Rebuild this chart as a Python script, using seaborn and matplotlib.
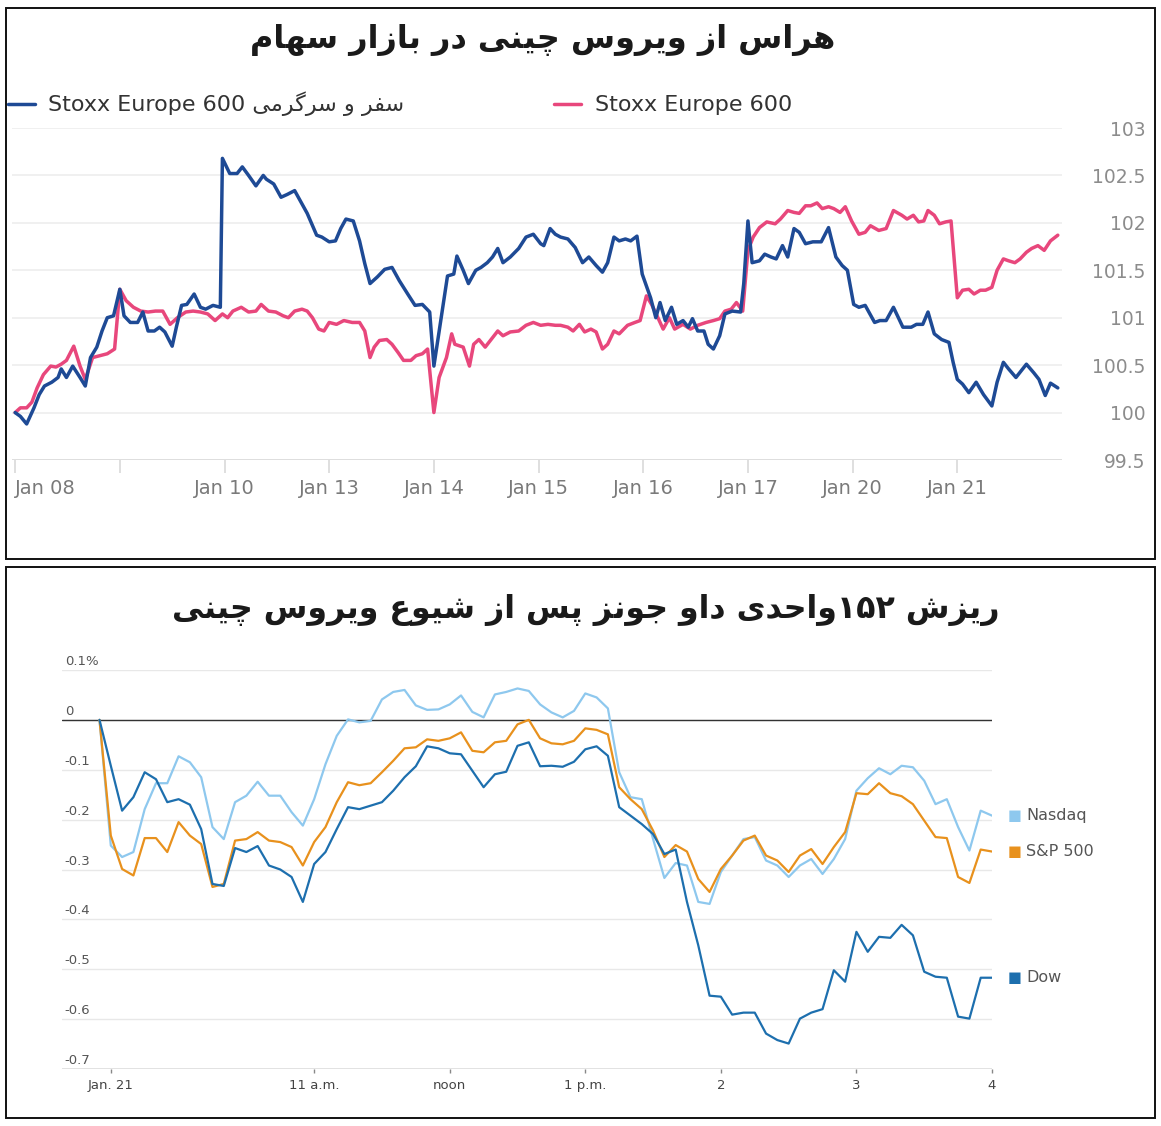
import re
import numpy as np
import pandas as pd
import matplotlib
matplotlib.use('Agg')
import matplotlib.pyplot as plt
import matplotlib.transforms as mtransforms
from matplotlib.patches import Rectangle
import seaborn as sns

sns.set_theme(style='white')
plt.rcParams['font.family'] = ['DejaVu Sans']

# ---------------- data: top chart (index level, trading days) ----------------
day_labels = ['Jan 08', '', 'Jan 10', 'Jan 13', 'Jan 14', 'Jan 15',
              'Jan 16', 'Jan 17', 'Jan 20', 'Jan 21']
top_yticks = [99.5, 100, 100.5, 101, 101.5, 102, 102.5, 103]

travel_t = [0.00, 0.05, 0.11, 0.18, 0.23, 0.28, 0.35, 0.41, 0.44, 0.49,
            0.55, 0.62, 0.67, 0.72, 0.78, 0.83, 0.88, 0.94, 1.00, 1.04,
            1.10, 1.17, 1.22, 1.27, 1.33, 1.38, 1.43, 1.50, 1.54, 1.59,
            1.64, 1.71, 1.77, 1.82, 1.89, 1.96, 1.98, 2.05, 2.12, 2.17,
            2.23, 2.30, 2.37, 2.40, 2.47, 2.54, 2.60, 2.67, 2.72, 2.79,
            2.88, 2.93, 3.00, 3.06, 3.11, 3.16, 3.23, 3.29, 3.34, 3.39,
            3.46, 3.53, 3.60, 3.67, 3.75, 3.82, 3.89, 3.96, 4.00, 4.06,
            4.13, 4.19, 4.22, 4.28, 4.33, 4.40, 4.45, 4.51, 4.56, 4.61,
            4.66, 4.73, 4.81, 4.88, 4.95, 5.02, 5.05, 5.11, 5.16,
            5.21, 5.28, 5.35, 5.42, 5.48, 5.55, 5.61, 5.66, 5.72, 5.77,
            5.83, 5.88, 5.94, 5.99, 6.07, 6.12, 6.16, 6.21, 6.27, 6.32,
            6.38, 6.43, 6.47, 6.52, 6.58, 6.62, 6.67, 6.73, 6.78, 6.85,
            6.93, 6.96, 7.00, 7.04, 7.11, 7.16, 7.22, 7.27, 7.33, 7.38,
            7.44, 7.49, 7.55, 7.62, 7.70, 7.77, 7.84, 7.90, 7.95, 8.01,
            8.06, 8.12, 8.21, 8.26, 8.32, 8.39, 8.48, 8.56, 8.61, 8.67,
            8.72, 8.78, 8.85, 8.92, 8.96, 9.00, 9.05, 9.11, 9.18, 9.25,
            9.33, 9.38, 9.44, 9.49, 9.56, 9.66, 9.73, 9.78, 9.84, 9.89,
            9.96]
travel_v = [100.00, 99.96, 99.88, 100.05, 100.19, 100.28, 100.32, 100.37, 100.46, 100.37,
            100.49, 100.37, 100.28, 100.58, 100.69, 100.86, 101.00, 101.02, 101.30, 101.02,
            100.95, 100.95, 101.06, 100.86, 100.86, 100.90, 100.85, 100.70, 100.90, 101.13,
            101.14, 101.25, 101.11, 101.09, 101.13, 101.11, 102.68, 102.52, 102.52, 102.59,
            102.50, 102.39, 102.50, 102.46, 102.41, 102.27, 102.30, 102.34, 102.24, 102.10,
            101.87, 101.85, 101.80, 101.81, 101.94, 102.04, 102.02, 101.81, 101.57, 101.36,
            101.43, 101.51, 101.53, 101.39, 101.25, 101.13, 101.14, 101.06, 100.49, 100.93,
            101.44, 101.46, 101.65, 101.50, 101.36, 101.50, 101.53, 101.58, 101.64, 101.73,
            101.58, 101.64, 101.73, 101.85, 101.88, 101.78, 101.76, 101.94, 101.88,
            101.85, 101.83, 101.74, 101.58, 101.64, 101.55, 101.48, 101.58, 101.85, 101.81,
            101.83, 101.81, 101.86, 101.46, 101.21, 101.00, 101.16, 100.97, 101.11, 100.93,
            100.97, 100.90, 100.99, 100.86, 100.86, 100.72, 100.67, 100.81, 101.04, 101.07,
            101.06, 101.36, 102.02, 101.58, 101.60, 101.67, 101.64, 101.62, 101.76, 101.64,
            101.94, 101.90, 101.78, 101.80, 101.80, 101.95, 101.64, 101.55, 101.50, 101.14,
            101.11, 101.13, 100.95, 100.97, 100.97, 101.11, 100.90, 100.90, 100.93, 100.93,
            101.06, 100.83, 100.77, 100.74, 100.53, 100.35, 100.30, 100.21, 100.32, 100.19,
            100.07, 100.32, 100.53, 100.46, 100.37, 100.51, 100.42, 100.35, 100.18, 100.31,
            100.26]

stoxx_t = [0.00, 0.05, 0.11, 0.16, 0.21, 0.27, 0.34, 0.39, 0.44, 0.49,
           0.56, 0.62, 0.67, 0.74, 0.81, 0.88, 0.95, 1.00, 1.06, 1.13,
           1.20, 1.27, 1.34, 1.41, 1.48, 1.55, 1.63, 1.70, 1.77, 1.84,
           1.91, 1.98, 2.03, 2.08, 2.16, 2.23, 2.30, 2.35, 2.42, 2.49,
           2.56, 2.61, 2.67, 2.74, 2.79, 2.84, 2.90, 2.95, 3.00, 3.07,
           3.14, 3.22, 3.29, 3.34, 3.39, 3.43, 3.48, 3.55, 3.60, 3.66,
           3.71, 3.78, 3.83, 3.89, 3.94, 4.00, 4.05, 4.12, 4.17, 4.20,
           4.28, 4.34, 4.38, 4.43, 4.49, 4.56, 4.61, 4.66, 4.73, 4.81,
           4.88, 4.95, 5.02, 5.09, 5.16,
           5.21, 5.28, 5.33, 5.39, 5.44, 5.50, 5.55, 5.61, 5.66, 5.72,
           5.77, 5.85, 5.92, 5.97, 6.03, 6.08, 6.14, 6.19, 6.25, 6.30,
           6.38, 6.45, 6.52, 6.60, 6.67, 6.73, 6.78, 6.84, 6.89, 6.95,
           7.00, 7.05, 7.11, 7.18, 7.26, 7.31, 7.38, 7.44, 7.49, 7.55,
           7.60, 7.66, 7.71, 7.77, 7.82, 7.88, 7.93, 7.99, 8.06, 8.12,
           8.17, 8.25, 8.32, 8.39, 8.47, 8.52, 8.58, 8.63, 8.68, 8.72,
           8.78, 8.83, 8.89, 8.94, 9.00, 9.05, 9.11, 9.16, 9.22, 9.27,
           9.33, 9.38, 9.44, 9.49, 9.55, 9.60, 9.66, 9.71, 9.77, 9.83,
           9.89, 9.96]
stoxx_v = [100.00, 100.05, 100.05, 100.11, 100.26, 100.40, 100.49, 100.48, 100.51, 100.55,
           100.70, 100.49, 100.35, 100.58, 100.60, 100.62, 100.67, 101.30, 101.18, 101.11,
           101.07, 101.06, 101.07, 101.07, 100.93, 101.00, 101.06, 101.07, 101.06, 101.04,
           100.97, 101.04, 101.00, 101.07, 101.11, 101.06, 101.07, 101.14, 101.07, 101.06,
           101.02, 101.00, 101.07, 101.09, 101.07, 101.00, 100.88, 100.86, 100.95, 100.93,
           100.97, 100.95, 100.95, 100.86, 100.58, 100.69, 100.76, 100.77, 100.72, 100.63,
           100.55, 100.55, 100.60, 100.62, 100.67, 100.00, 100.37, 100.58, 100.83, 100.72,
           100.69, 100.49, 100.72, 100.77, 100.69, 100.79, 100.86, 100.81, 100.85, 100.86,
           100.92, 100.95, 100.92, 100.93, 100.92,
           100.92, 100.90, 100.86, 100.93, 100.85, 100.88, 100.85, 100.67, 100.72, 100.86,
           100.83, 100.92, 100.95, 100.97, 101.23, 101.14, 101.00, 100.88, 101.00, 100.88,
           100.93, 100.88, 100.92, 100.95, 100.97, 100.99, 101.07, 101.09, 101.16, 101.07,
           101.71, 101.85, 101.95, 102.01, 101.99, 102.04, 102.13, 102.11, 102.10, 102.18,
           102.18, 102.21, 102.15, 102.17, 102.15, 102.11, 102.17, 102.02, 101.88, 101.90,
           101.97, 101.92, 101.94, 102.13, 102.08, 102.04, 102.08, 102.01, 102.02, 102.13,
           102.08, 101.99, 102.01, 102.02, 101.21, 101.29, 101.30, 101.25, 101.29, 101.29,
           101.32, 101.50, 101.62, 101.60, 101.58, 101.62, 101.69, 101.73, 101.76, 101.71,
           101.81, 101.87]

# ---------------- data: bottom chart (% change, Jan 21 intraday) ----------------
times = pd.date_range('2020-01-21 09:25', '2020-01-21 16:00', freq='5min')
hour_ticks = [9.5, 11, 12, 13, 14, 15, 16]
hour_labels = ['Jan. 21', '11 a.m.', 'noon', '1 p.m.', '2', '3', '4']
pct_ticks = [0.1, 0, -0.1, -0.2, -0.3, -0.4, -0.5, -0.6, -0.7]
pct_labels = ['0.1%', '0', '-0.1', '-0.2', '-0.3', '-0.4', '-0.5', '-0.6', '-0.7']

nasdaq = [0.000, -0.252, -0.275, -0.265, -0.179, -0.127, -0.127, -0.073,
          -0.085, -0.115, -0.215, -0.239, -0.165, -0.152, -0.124, -0.152, -0.152, -0.185, -0.212, -0.159,
          -0.089, -0.032, 0.001, -0.005, -0.002, 0.041, 0.056, 0.060, 0.029, 0.020, 0.021, 0.031,
          0.049, 0.016, 0.005, 0.051, 0.056, 0.063, 0.058, 0.031, 0.015, 0.005, 0.018, 0.053,
          0.045, 0.023, -0.105, -0.155, -0.159, -0.239, -0.317, -0.287, -0.292, -0.365, -0.369, -0.305,
          -0.272, -0.239, -0.235, -0.282, -0.292, -0.315, -0.292, -0.279, -0.309, -0.279, -0.239, -0.142,
          -0.117, -0.097, -0.109, -0.092, -0.095, -0.122, -0.169, -0.159, -0.215, -0.262, -0.182, -0.192]
sp500 = [0.000, -0.232, -0.299, -0.312, -0.237, -0.237, -0.265, -0.205,
         -0.232, -0.249, -0.335, -0.329, -0.242, -0.239, -0.225, -0.242, -0.245, -0.255, -0.292, -0.245,
         -0.215, -0.165, -0.125, -0.131, -0.127, -0.105, -0.082, -0.057, -0.055, -0.039, -0.042, -0.037,
         -0.025, -0.062, -0.065, -0.045, -0.042, -0.009, 0.000, -0.037, -0.047, -0.049, -0.042, -0.017,
         -0.020, -0.029, -0.135, -0.159, -0.179, -0.222, -0.275, -0.251, -0.264, -0.319, -0.345, -0.299,
         -0.272, -0.242, -0.232, -0.272, -0.282, -0.305, -0.272, -0.259, -0.289, -0.255, -0.225, -0.147,
         -0.149, -0.127, -0.147, -0.153, -0.169, -0.202, -0.235, -0.237, -0.315, -0.327, -0.260, -0.264]
dow = [0.000, -0.092, -0.182, -0.155, -0.105, -0.119, -0.165, -0.159,
       -0.170, -0.219, -0.329, -0.333, -0.257, -0.265, -0.253, -0.292, -0.300, -0.315, -0.365, -0.289,
       -0.265, -0.219, -0.175, -0.179, -0.172, -0.165, -0.142, -0.115, -0.093, -0.053, -0.057, -0.067,
       -0.069, -0.102, -0.135, -0.109, -0.104, -0.052, -0.045, -0.093, -0.092, -0.094, -0.084, -0.059,
       -0.053, -0.072, -0.175, -0.192, -0.209, -0.229, -0.269, -0.260, -0.365, -0.452, -0.553, -0.555,
       -0.591, -0.587, -0.587, -0.629, -0.642, -0.649, -0.599, -0.587, -0.580, -0.502, -0.525, -0.425,
       -0.465, -0.435, -0.437, -0.411, -0.432, -0.505, -0.515, -0.517, -0.595, -0.599, -0.517, -0.517]

TOP_TITLE = 'هراس از ویروس چینی در بازار سهام'
BOTTOM_TITLE = 'ریزش ۱۵۲واحدی داو جونز پس از شیوع ویروس چینی'
TRAVEL_FA = 'سفر و سرگرمی'

# ---------------- minimal Persian shaping (matplotlib has no RTL/joining) ----------------
DUAL = {  # isolated, final, initial, medial
    'ب': '\uFE8F\uFE90\uFE91\uFE92', 'پ': '\uFB56\uFB57\uFB58\uFB59',
    'ت': '\uFE95\uFE96\uFE97\uFE98', 'ج': '\uFE9D\uFE9E\uFE9F\uFEA0',
    'چ': '\uFB7A\uFB7B\uFB7C\uFB7D', 'ح': '\uFEA1\uFEA2\uFEA3\uFEA4',
    'خ': '\uFEA5\uFEA6\uFEA7\uFEA8', 'س': '\uFEB1\uFEB2\uFEB3\uFEB4',
    'ش': '\uFEB5\uFEB6\uFEB7\uFEB8', 'ع': '\uFEC9\uFECA\uFECB\uFECC',
    'ف': '\uFED1\uFED2\uFED3\uFED4', 'ق': '\uFED5\uFED6\uFED7\uFED8',
    'ک': '\uFB8E\uFB8F\uFB90\uFB91', 'گ': '\uFB92\uFB93\uFB94\uFB95',
    'ل': '\uFEDD\uFEDE\uFEDF\uFEE0', 'م': '\uFEE1\uFEE2\uFEE3\uFEE4',
    'ن': '\uFEE5\uFEE6\uFEE7\uFEE8', 'ه': '\uFEE9\uFEEA\uFEEB\uFEEC',
    'ی': '\uFBFC\uFBFD\uFBFE\uFBFF',
}
RIGHT = {  # isolated, final
    'ا': '\uFE8D\uFE8E', 'د': '\uFEA9\uFEAA', 'ذ': '\uFEAB\uFEAC',
    'ر': '\uFEAD\uFEAE', 'ز': '\uFEAF\uFEB0', 'ژ': '\uFB8A\uFB8B',
    'و': '\uFEED\uFEEE',
}


def fa(text):
    out = []
    for i, c in enumerate(text):
        forms = DUAL.get(c) or RIGHT.get(c)
        if forms is None:
            out.append(c)
            continue
        prev = text[i - 1] if i > 0 else ''
        nxt = text[i + 1] if i + 1 < len(text) else ''
        jp = prev in DUAL
        jn = c in DUAL and (nxt in DUAL or nxt in RIGHT)
        if jp and jn:
            out.append(forms[3])
        elif jp:
            out.append(forms[1])
        elif jn:
            out.append(forms[2])
        else:
            out.append(forms[0])
    # visual order: right-to-left, digit runs stay left-to-right
    tokens = re.findall(r'[0-9\u06F0-\u06F9]+|.', ''.join(out))
    return ''.join(tokens[::-1])


W, H = 1161, 1126
fig = plt.figure(figsize=(W / 100, H / 100), dpi=100)
fig.patch.set_facecolor('white')

# panel frames
for y0, y1 in [(8, 559), (567, 1118)]:
    fig.add_artist(Rectangle((6 / W, 1 - y1 / H), 1149 / W, (y1 - y0) / H,
                             transform=fig.transFigure, fill=False,
                             edgecolor='#111111', linewidth=1.4))

# ================= top chart =================
ax1 = fig.add_axes([12 / W, 1 - 460 / H, 1050 / W, 332 / H])
blue, pink = '#1e4a95', '#e8477c'
sns.lineplot(x=stoxx_t, y=stoxx_v, ax=ax1, color=pink, linewidth=2.5,
             label='Stoxx Europe 600')
sns.lineplot(x=travel_t, y=travel_v, ax=ax1, color=blue, linewidth=2.5,
             label='Stoxx Europe 600 ' + fa(TRAVEL_FA))
ax1.set_xlim(-0.03, 10.0)
ax1.set_ylim(99.5, 103.0)
for s in ax1.spines.values():
    s.set_visible(False)
ax1.set_yticks(top_yticks)
ax1.set_yticklabels([f'{v:g}' for v in top_yticks])
ax1.yaxis.tick_right()
ax1.grid(axis='y', color='#ececec', linewidth=1.1)
ax1.axhline(99.5, color='#dddddd', linewidth=1.3)
ax1.tick_params(axis='y', length=0, pad=60, labelsize=13.5, labelcolor='#8c8c8c')
for lab in ax1.get_yticklabels():
    lab.set_ha('right')
ax1.set_xticks(range(len(day_labels)))
ax1.set_xticklabels(day_labels)
ax1.tick_params(axis='x', bottom=True, length=9, width=1.1, color='#d6d6d6',
                pad=5, labelsize=14, labelcolor='#7a7a7a')
ax1.get_xticklabels()[0].set_ha('left')
ax1.set_xlabel('')
ax1.set_ylabel('')

h, l = ax1.get_legend_handles_labels()
ax1.legend(h[::-1], l[::-1], loc='center left', ncol=2,
           bbox_to_anchor=(8 / W, 1 - 104 / H), bbox_transform=fig.transFigure,
           frameon=False, fontsize=16, handlelength=1.22, handletextpad=0.59,
           columnspacing=6.75, borderpad=0, borderaxespad=0, labelcolor='#333333')

fig.text(543 / W, 1 - 40 / H, fa(TOP_TITLE), ha='center', va='center',
         fontsize=23, fontweight='bold', color='#1a1a1a')

# ================= bottom chart =================
ax2 = fig.add_axes([62 / W, 1 - 1069 / H, 930 / W, 399 / H])
hours = times.hour + times.minute / 60
series = [('Nasdaq', nasdaq, '#8ec8ee'), ('S&P 500', sp500, '#e8911d'),
          ('Dow', dow, '#1d6fae')]
for name, vals, col in series:
    sns.lineplot(x=hours, y=vals, ax=ax2, color=col, linewidth=1.6)
    ax2.annotate('\u25A0', xy=(hours[-1], vals[-1]), xytext=(16, 0),
                 textcoords='offset points', va='center', ha='center',
                 color=col, fontsize=10.5, annotation_clip=False)
    ax2.annotate(name, xy=(hours[-1], vals[-1]), xytext=(24.5, 0),
                 textcoords='offset points', va='center', ha='left',
                 color='#555555', fontsize=11.5, annotation_clip=False)
ax2.set_xlim(9.14, 16.0)
ax2.set_ylim(-0.7, 0.1)
for s in ax2.spines.values():
    s.set_visible(False)
ax2.set_yticks(pct_ticks)
ax2.set_yticklabels([])
ax2.tick_params(axis='y', left=False, length=0)
ax2.grid(axis='y', color='#e8e8e8', linewidth=1.0)
ax2.axhline(-0.7, color='#dedede', linewidth=1.2)
ax2.axhline(0, color='#333333', linewidth=1.0, zorder=1)
trans = mtransforms.blended_transform_factory(ax2.transAxes, ax2.transData)
for v, lab in zip(pct_ticks, pct_labels):
    ax2.text(0.003, v + 0.004, lab, transform=trans, ha='left', va='bottom',
             fontsize=9.5, color='#555555')
ax2.set_xticks(hour_ticks)
ax2.set_xticklabels(hour_labels)
ax2.tick_params(axis='x', bottom=True, length=3, width=1, color='#888888',
                pad=4, labelsize=9.5, labelcolor='#444444')
ax2.set_xlabel('')
ax2.set_ylabel('')

fig.text(586 / W, 1 - 610 / H, fa(BOTTOM_TITLE), ha='center', va='center',
         fontsize=22.8, fontweight='bold', color='#1a1a1a')

fig.savefig('out.png', dpi=100, facecolor='white')
